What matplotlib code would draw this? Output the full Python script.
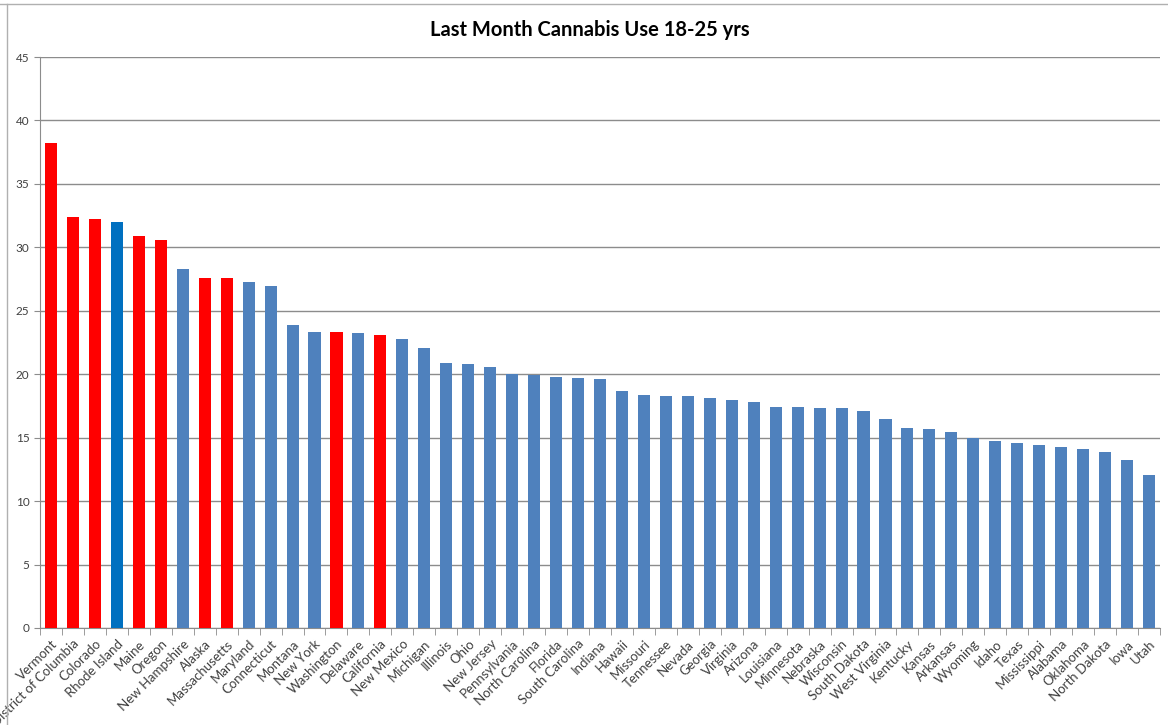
import matplotlib.pyplot as plt
from matplotlib.lines import Line2D
import numpy as np

states = ['Vermont', 'District of Columbia', 'Colorado', 'Rhode Island', 'Maine', 'Oregon',
          'New Hampshire', 'Alaska', 'Massachusetts', 'Maryland', 'Connecticut', 'Montana',
          'New York', 'Washington', 'Delaware', 'California', 'New Mexico', 'Michigan',
          'Illinois', 'Ohio', 'New Jersey', 'Pennsylvania', 'North Carolina', 'Florida',
          'South Carolina', 'Indiana', 'Hawaii', 'Missouri', 'Tennessee', 'Nevada', 'Georgia',
          'Virginia', 'Arizona', 'Louisiana', 'Minnesota', 'Nebraska', 'Wisconsin',
          'South Dakota', 'West Virginia', 'Kentucky', 'Kansas', 'Arkansas', 'Wyoming',
          'Idaho', 'Texas', 'Mississippi', 'Alabama', 'Oklahoma', 'North Dakota', 'Iowa', 'Utah']
use = [38.2, 32.4, 32.2, 32.0, 30.9, 30.6,
       28.3, 27.6, 27.55, 27.3, 26.95, 23.9,
       23.35, 23.3, 23.25, 23.1, 22.8, 22.1,
       20.9, 20.8, 20.55, 20.05, 19.9, 19.8,
       19.7, 19.6, 18.65, 18.4, 18.3, 18.25, 18.1,
       17.95, 17.8, 17.45, 17.45, 17.37, 17.3,
       17.07, 16.5, 15.8, 15.7, 15.47, 15.0,
       14.74, 14.58, 14.45, 14.3, 14.08, 13.9, 13.24, 12.03]
legal = ['Vermont', 'District of Columbia', 'Colorado', 'Maine', 'Oregon',
         'Alaska', 'Massachusetts', 'Washington', 'California']
highlight = ['Rhode Island']

colors = []
for s in states:
    if s in legal:
        colors.append('#FF0000')
    elif s in highlight:
        colors.append('#0070C0')
    else:
        colors.append('#4F81BD')

plt.rcParams['font.family'] = ['Lato', 'DejaVu Sans']

fig = plt.figure(figsize=(11.68, 7.25), dpi=100)
ax = fig.add_axes([40 / 1168, 97 / 725, 1120 / 1168, 571 / 725])

x = np.arange(len(states))
ax.bar(x, use, width=0.55, color=colors, zorder=3)

ax.set_xlim(-0.5, len(states) - 0.5)
ax.set_ylim(0, 45)
ax.set_yticks(np.arange(0, 46, 5))
ax.yaxis.grid(True, color='#8c8c8c', linewidth=1, zorder=0)

ax.set_xticks(x)
ax.set_xticklabels(states, rotation=45, ha='right', rotation_mode='anchor', fontsize=9.5, color='#404040')
ax.set_xticks(np.arange(-0.5, len(states)), minor=True)
ax.tick_params(axis='x', which='major', length=0, pad=7)
ax.tick_params(axis='x', which='minor', length=5, color='#8c8c8c')
ax.tick_params(axis='y', length=4, color='#8c8c8c', labelsize=8.5, labelcolor='#404040')

for side in ['top', 'right']:
    ax.spines[side].set_visible(False)
ax.spines['left'].set_color('#8c8c8c')
ax.spines['bottom'].set_color('#8c8c8c')

fig.text(590 / 1168, 1 - 30 / 725, 'Last Month Cannabis Use 18-25 yrs',
         ha='center', va='center', fontsize=14.5, fontweight='bold')

# spreadsheet border lines around the chart
fig.add_artist(Line2D([0, 1], [1 - 4 / 725, 1 - 4 / 725], color='#b0b0b0', linewidth=1))
fig.add_artist(Line2D([7 / 1168, 7 / 1168], [0, 1 - 4 / 725], color='#b0b0b0', linewidth=1))

fig.savefig('out.png', dpi=100)
